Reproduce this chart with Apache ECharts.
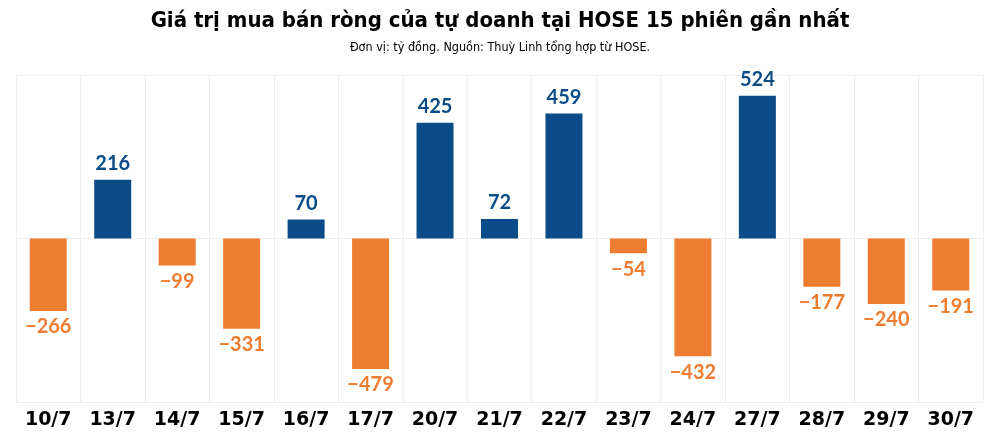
<!DOCTYPE html>
<html><head><meta charset="utf-8">
<script src="https://cdn.jsdelivr.net/npm/echarts@6/dist/echarts.min.js"></script>
<style>html,body{margin:0;padding:0;background:#fff}#c{width:1000px;height:442px}</style>
</head><body><div id="c"></div>
<script>
const categories = ['10/7','13/7','14/7','15/7','16/7','17/7','20/7','21/7','22/7','23/7','24/7','27/7','28/7','29/7','30/7'];
const values = [-266, 216, -99, -331, 70, -479, 425, 72, 459, -54, -432, 524, -177, -240, -191];
const titleText = 'Giá trị mua bán ròng của tự doanh tại HOSE 15 phiên gần nhất';
const subtitleText = 'Đơn vị: tỷ đồng. Nguồn: Thuỳ Linh tổng hợp từ HOSE.';
const POS = '#0b4c88', NEG = '#ed7d31';

const chart = echarts.init(document.getElementById('c'));
chart.setOption({
  animation: false,
  title: {
    text: titleText, subtext: subtitleText, left: 'center', top: 5, itemGap: 9,
    textStyle: {fontFamily: 'DejaVu Sans Condensed', fontWeight: 'bold', fontSize: 22, color: '#000'},
    subtextStyle: {fontFamily: 'DejaVu Sans Condensed', fontSize: 12.5, color: '#000'}
  },
  grid: {left: 16, right: 17, top: 75, bottom: 40, containLabel: false},
  xAxis: {
    type: 'category', data: categories,
    axisLine: {show: false}, axisTick: {show: false},
    splitLine: {show: true, interval: 0, lineStyle: {color: '#eeeeee', width: 1}},
    axisLabel: {interval: 0, margin: 9, fontFamily: 'DejaVu Sans', fontWeight: 'bold', fontSize: 19, color: '#000'}
  },
  yAxis: {
    type: 'value', min: -600, max: 600, interval: 600,
    axisLabel: {show: false}, axisLine: {show: false}, axisTick: {show: false},
    splitLine: {show: true, lineStyle: {color: '#eeeeee', width: 1}}
  },
  series: [{
    type: 'bar', barWidth: 37,
    data: values.map(v => ({
      value: v,
      itemStyle: {color: v >= 0 ? POS : NEG},
      label: {
        show: true, position: v >= 0 ? 'top' : 'bottom', distance: 6,
        color: v >= 0 ? POS : NEG,
        fontFamily: 'Lato', fontWeight: 'bold', fontSize: 20,
        formatter: p => (p.value < 0 ? '\u2212' + Math.abs(p.value) : String(p.value))
      }
    }))
  }]
});
</script></body></html>
